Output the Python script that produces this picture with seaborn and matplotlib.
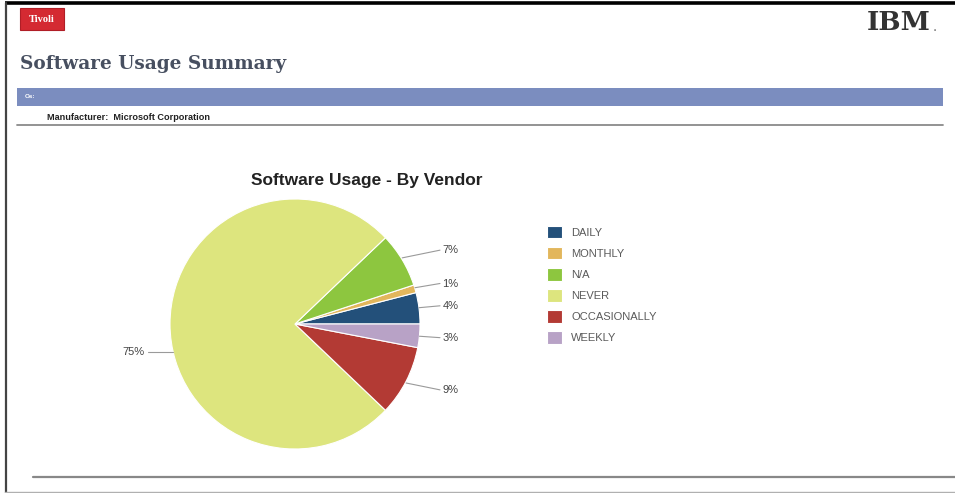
import numpy as np
import matplotlib
matplotlib.use("Agg")
import matplotlib.pyplot as plt
import seaborn as sns

# ---- data ----
categories = ["DAILY", "MONTHLY", "N/A", "NEVER", "OCCASIONALLY", "WEEKLY"]
shares = [4, 1, 7, 75, 9, 3]
pct_labels = ["4%", "1%", "7%", "75%", "9%", "3%"]
colors = ["#23507a", "#e2b65c", "#8dc63f", "#dde57e", "#b33a34", "#b8a2c6"]

chart_title = "Software Usage - By Vendor"
page_title = "Software Usage Summary"
manufacturer = "Manufacturer:  Microsoft Corporation"

sns.set_theme(style="white")
plt.rcParams['font.family'] = ['Liberation Sans', 'DejaVu Sans']

W, H = 955, 493
fig = plt.figure(figsize=(W / 100, H / 100), dpi=100)
fig.patch.set_facecolor("white")

# overlay axes in pixel coordinates for page decoration
bg = fig.add_axes([0, 0, 1, 1])
bg.set_xlim(0, W)
bg.set_ylim(H, 0)
bg.axis("off")

# page frame
bg.plot([5, W], [3, 3], color="black", lw=2.6, solid_capstyle="butt")
bg.plot([5.5, 5.5], [3, H], color="#444444", lw=1.6)
bg.plot([5, W], [491.5, 491.5], color="#b0b0b0", lw=1.0)

# Tivoli badge
bg.add_patch(plt.Rectangle((20, 8), 44, 22, facecolor="#d42a32", edgecolor="#b01e26", lw=0.8))
bg.text(42, 19.5, "Tivoli", color="white", fontsize=7.5, fontweight="bold",
        ha="center", va="center", family=["Liberation Serif", "DejaVu Serif"])

# IBM logo
bg.text(931, 22, "IBM", color="#333333", fontsize=19, fontweight="bold",
        ha="right", va="center", family=["DejaVu Serif"])
bg.text(933, 27, ".", color="#777777", fontsize=11, ha="left", va="center")

# page title
bg.text(20, 64, page_title, color="#474f60", fontsize=13.3, fontweight="heavy",
        ha="left", va="center", family=["DejaVu Serif"])

# blue band
bg.add_patch(plt.Rectangle((17, 88), 926, 18, facecolor="#7b8dbf", edgecolor="none"))
bg.text(25, 97, "Os:", color="white", fontsize=4.5, fontweight="bold", ha="left", va="center")
bg.text(47, 117, manufacturer, color="#222222", fontsize=6.6, fontweight="bold",
        ha="left", va="center")
bg.plot([17, 943], [125, 125], color="#8a8a8a", lw=1.3)
bg.plot([33, W], [477, 477], color="#888888", lw=1.6)

# chart title
bg.text(367, 181, chart_title, color="#222222", fontsize=12.5, fontweight="bold",
        ha="center", va="center")

# ---- pie ----
cx, cy, r = 295, 324, 125
ax = fig.add_axes([(cx - r) / W, (H - cy - r) / H, 2 * r / W, 2 * r / H])
wedges, _ = ax.pie(shares, colors=colors, startangle=0, counterclock=True,
                   radius=1.0, wedgeprops=dict(edgecolor="white", linewidth=0.8))
ax.set_xlim(-1, 1)
ax.set_ylim(-1, 1)
ax.set_aspect("equal")
ax.axis("off")

nudge = {"NEVER": -0.22}
for w, cat, lab in zip(wedges, categories, pct_labels):
    th = np.deg2rad((w.theta1 + w.theta2) / 2)
    ex, ey = np.cos(th), np.sin(th)
    if ex >= 0:
        ly = 1.15 * ey
        ax.plot([ex * 1.0, 1.16], [ey * 1.0 + (ly - ey) * 0.2, ly], color="#9a9a9a",
                lw=0.8, clip_on=False)
        ax.text(1.18, ly, lab, fontsize=8, color="#444444", ha="left", va="center")
    else:
        ly = ey + nudge.get(cat, 0)
        ex2 = -np.sqrt(max(1 - ly ** 2, 0))
        ax.plot([ex2, -1.18], [ly, ly], color="#9a9a9a", lw=0.8, clip_on=False)
        ax.text(-1.2, ly, lab, fontsize=8, color="#444444", ha="right", va="center")

# legend
leg = fig.legend(wedges, categories, loc="upper left",
                 bbox_to_anchor=(539 / W, 1 - 218 / H), frameon=False,
                 fontsize=8, handlelength=1.35, handleheight=1.35,
                 labelspacing=0.78, handletextpad=0.85, borderpad=0.2)
for t in leg.get_texts():
    t.set_color("#5a5a5a")

fig.savefig("out.png", dpi=100, facecolor="white")
